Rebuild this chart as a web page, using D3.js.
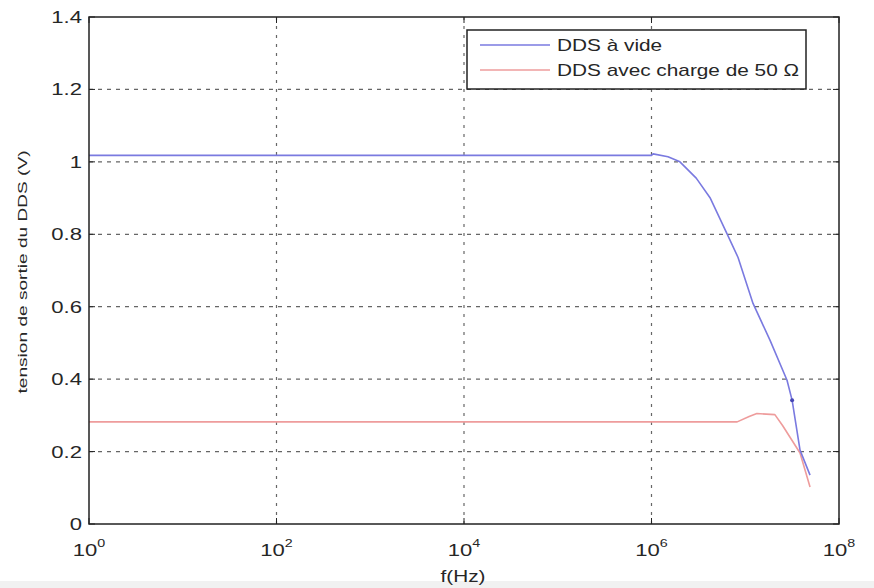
<!DOCTYPE html>
<html>
<head>
<meta charset="utf-8">
<script src="https://cdn.jsdelivr.net/npm/d3@7"></script>
<style>
  body { margin: 0; background: #fff; }
  svg { display: block; font-family: "Liberation Sans", Arial, sans-serif; }
</style>
</head>
<body>
<svg id="chart" width="874" height="588"></svg>
<script>
// DDS output voltage vs frequency (log x axis)
const blueFreq = [1, 1.0e6, 1.04e6, 1.5e6, 2.01e6, 3.0e6, 4.21e6, 6.38e6, 8.38e6, 1.21e7, 1.84e7, 2.79e7, 3.16e7, 3.84e7, 4.91e7];
const blueVolt = [1.018, 1.018, 1.022, 1.014, 1.0, 0.955, 0.901, 0.802, 0.736, 0.609, 0.507, 0.397, 0.342, 0.204, 0.135];

const redFreq = [1, 8.2e6, 1.1e7, 1.33e7, 2.07e7, 2.5e7, 3.84e7, 4.91e7];
const redVolt = [0.282, 0.282, 0.297, 0.305, 0.302, 0.272, 0.196, 0.102];

const xTickExp = [0, 2, 4, 6, 8];
const yTicks = [0, 0.2, 0.4, 0.6, 0.8, 1, 1.2, 1.4];
const legendLabels = ["DDS à vide", "DDS avec charge de 50 Ω"];
const colors = ["#7a7ae0", "#ee9c9c"];

const SX = 1.3; // picture is stretched sideways

const svg = d3.select('#chart');
const pLeft = 89, pRight = 839, pTop = 17, pBottom = 524;

const x = d3.scaleLog().domain([1, 1e8]).range([pLeft, pRight]);
const y = d3.scaleLinear().domain([0, 1.4]).range([pBottom, pTop]);

svg.append('rect').attr('x', 0).attr('y', 581).attr('width', 874).attr('height', 7).attr('fill', '#f1f1f1');

// stretched text helper
function stext(px, py, anchor, size) {
    return svg.append('g')
        .attr('transform', `translate(${px},${py}) scale(${SX},1)`)
        .append('text')
        .attr('text-anchor', anchor)
        .attr('font-size', size)
        .attr('fill', '#262626');
}

// grid
const grid = svg.append('g').attr('stroke', '#666').attr('stroke-width', 1.2);
yTicks.slice(1, -1).forEach(v => {
    grid.append('line').attr('x1', pLeft).attr('x2', pRight).attr('y1', y(v)).attr('y2', y(v))
        .attr('stroke-dasharray', '4,5');
});
xTickExp.slice(1, -1).forEach(e => {
    grid.append('line').attr('x1', x(Math.pow(10, e))).attr('x2', x(Math.pow(10, e))).attr('y1', pTop).attr('y2', pBottom)
        .attr('stroke-dasharray', '3,6');
});

// lines
const line = d3.line().x(d => x(d[0])).y(d => y(d[1]));
svg.append('path').datum(redFreq.map((f, i) => [f, redVolt[i]]))
    .attr('d', line).attr('fill', 'none').attr('stroke', colors[1]).attr('stroke-width', 1.6)
    .attr('stroke-linejoin', 'round');
svg.append('path').datum(blueFreq.map((f, i) => [f, blueVolt[i]]))
    .attr('d', line).attr('fill', 'none').attr('stroke', colors[0]).attr('stroke-width', 1.6)
    .attr('stroke-linejoin', 'round');
svg.append('circle').attr('cx', x(blueFreq[12])).attr('cy', y(blueVolt[12])).attr('r', 2).attr('fill', '#4646b4');

// axes box and ticks
svg.append('rect').attr('x', pLeft).attr('y', pTop).attr('width', pRight - pLeft).attr('height', pBottom - pTop)
    .attr('fill', 'none').attr('stroke', '#222').attr('stroke-width', 1.5);
const ticks = svg.append('g').attr('stroke', '#222').attr('stroke-width', 1);
yTicks.forEach(v => {
    ticks.append('line').attr('x1', pLeft).attr('x2', pLeft + 6).attr('y1', y(v)).attr('y2', y(v));
    ticks.append('line').attr('x1', pRight - 6).attr('x2', pRight).attr('y1', y(v)).attr('y2', y(v));
    stext(pLeft - 7, y(v) + 6, 'end', 17).text(d3.format('~g')(v));
});
xTickExp.forEach(e => {
    const px = x(Math.pow(10, e));
    ticks.append('line').attr('x1', px).attr('x2', px).attr('y1', pBottom).attr('y2', pBottom - 6);
    ticks.append('line').attr('x1', px).attr('x2', px).attr('y1', pTop).attr('y2', pTop + 6);
    const t = stext(px, 556, 'middle', 17);
    t.append('tspan').text('10');
    t.append('tspan').attr('dy', -9).attr('font-size', 11).text(e);
});

// axis titles
stext(463, 582, 'middle', 16).text('f(Hz)');
svg.append('text')
    .attr('transform', 'translate(27,272) rotate(-90)')
    .attr('text-anchor', 'middle')
    .attr('font-size', 12.5)
    .attr('fill', '#262626')
    .attr('textLength', 243)
    .attr('lengthAdjust', 'spacingAndGlyphs')
    .text('tension de sortie du DDS (V)');

// legend
svg.append('rect').attr('x', 467).attr('y', 30).attr('width', 339).attr('height', 59)
    .attr('fill', '#fff').attr('stroke', '#222').attr('stroke-width', 1.5);
legendLabels.forEach((lab, i) => {
    const ly = 45 + i * 25;
    svg.append('line').attr('x1', 480).attr('x2', 550).attr('y1', ly).attr('y2', ly)
        .attr('stroke', colors[i]).attr('stroke-width', 1.6);
    stext(557, ly + 6, 'start', 16).text(lab);
});
</script>
</body>
</html>
